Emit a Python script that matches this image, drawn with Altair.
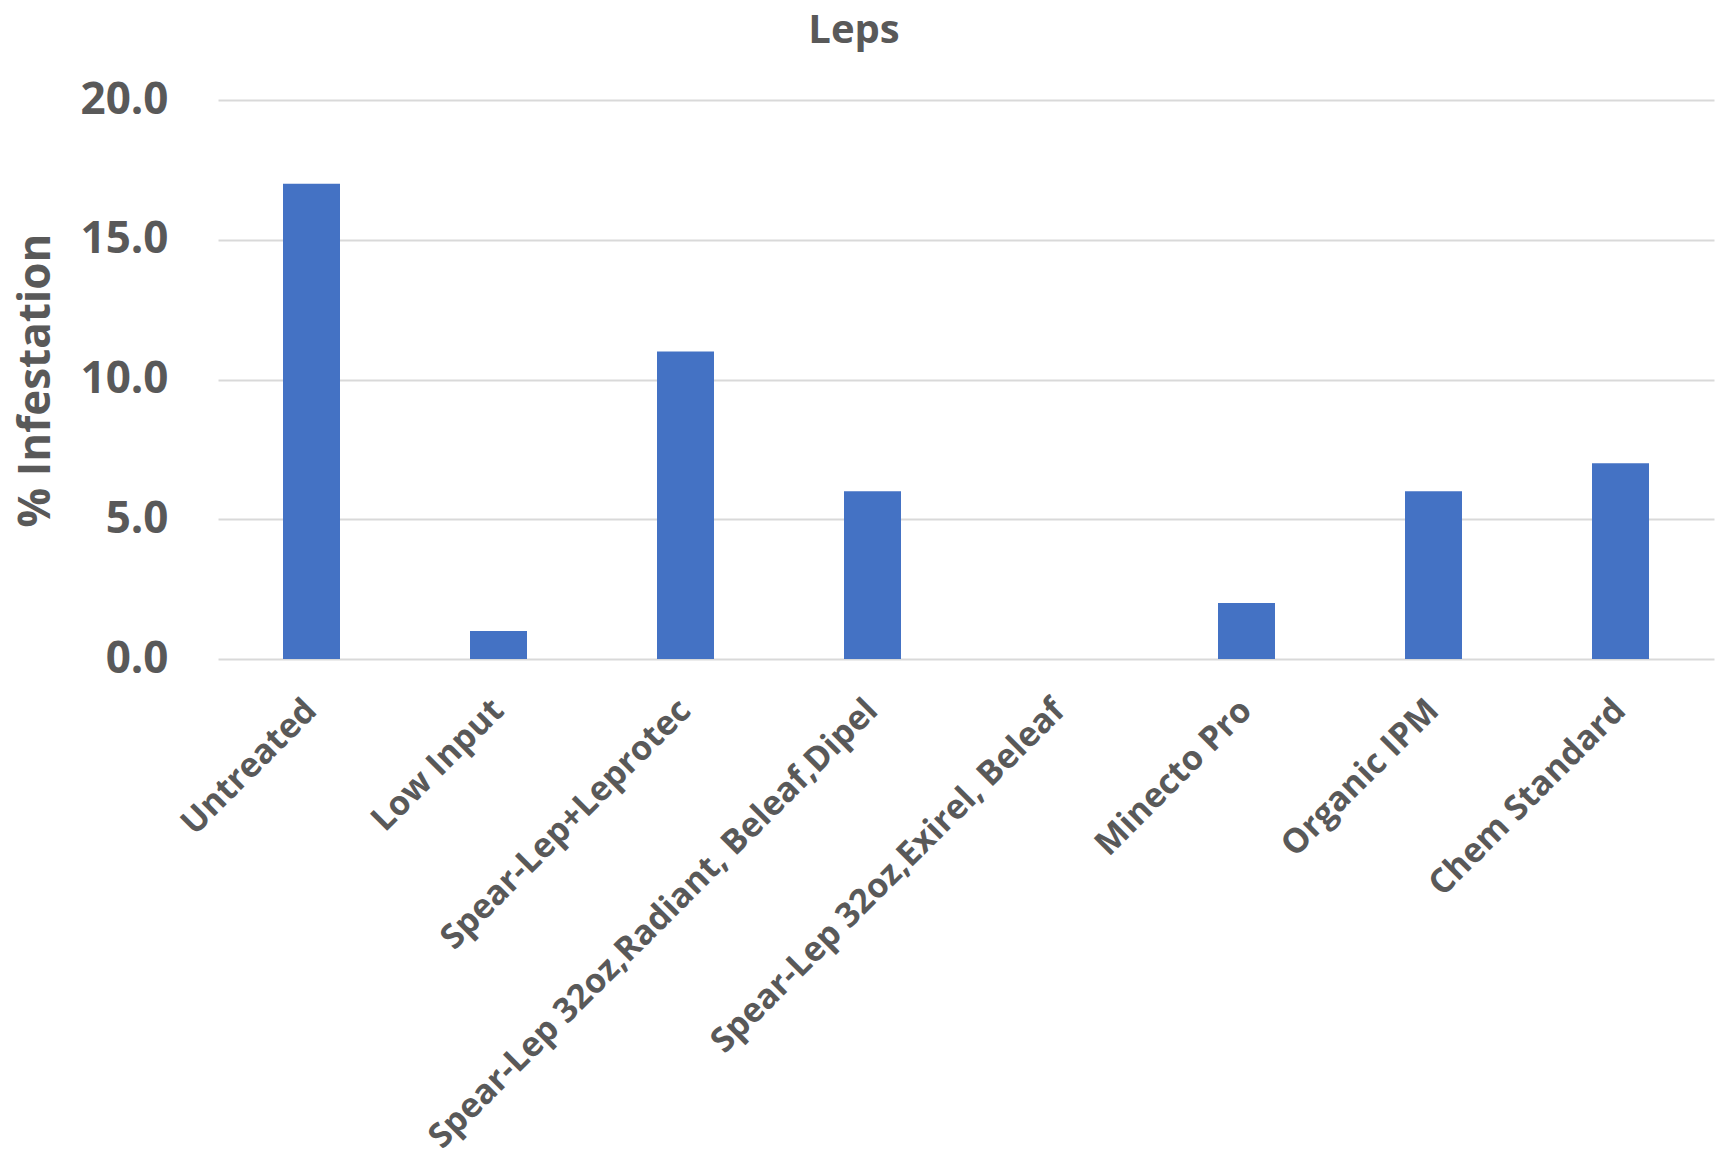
import altair as alt
import pandas as pd

categories = [
    "Untreated",
    "Low Input",
    "Spear-Lep+Leprotec",
    "Spear-Lep 32oz,Radiant, Beleaf,Dipel",
    "Spear-Lep 32oz,Exirel, Beleaf",
    "Minecto Pro",
    "Organic IPM",
    "Chem Standard",
]
values = [17.0, 1.0, 11.0, 6.0, 0.0, 2.0, 6.0, 7.0]
y_ticks = [0, 5, 10, 15, 20]

df = pd.DataFrame({"Treatment": categories, "Infestation": values})

FONT = "Open Sans"
GRAY = "#595959"

chart = (
    alt.Chart(df)
    .mark_bar(color="#4472C4", size=57)
    .encode(
        x=alt.X(
            "Treatment:N",
            sort=categories,
            scale=alt.Scale(paddingInner=0.0, paddingOuter=0.0),
            axis=alt.Axis(
                title=None,
                labelAngle=-45,
                labelAlign="right",
                labelBaseline="middle",
                labelFontSize=34,
                labelFont=FONT,
                labelFontWeight="bold",
                labelColor=GRAY,
                labelPadding=46,
                labelLimit=1000,
                ticks=False,
                domain=False,
                grid=False,
            ),
        ),
        y=alt.Y(
            "Infestation:Q",
            scale=alt.Scale(domain=[0, 20], nice=False),
            axis=alt.Axis(
                title="% Infestation",
                values=y_ticks,
                format=".1f",
                labelFontSize=44,
                labelFont=FONT,
                labelFontWeight="bold",
                labelColor=GRAY,
                labelPadding=50,
                ticks=False,
                domain=False,
                grid=True,
                gridColor="#D9D9D9",
                gridWidth=2,
                titleFont=FONT,
                titleFontSize=44,
                titleFontWeight="bold",
                titleColor=GRAY,
                titleAngle=-90,
                titleX=-182,
                titleY=280,
                titleAlign="center",
                titleBaseline="middle",
            ),
        ),
    )
    .properties(
        width=1496,
        height=559,
        background="white",
        title=alt.TitleParams(
            "Leps",
            font=FONT,
            fontSize=40,
            fontWeight="bold",
            color=GRAY,
            anchor="middle",
            frame="group",
            dx=-112,
            dy=23,
            baseline="bottom",
            offset=10,
        ),
        autosize=alt.AutoSizeParams(type="none"),
        padding={"left": 218, "top": 100, "right": 9, "bottom": 498},
    )
    .configure_view(strokeWidth=0)
)

chart.save("out.html", embed_options={"renderer": "svg", "actions": False})
